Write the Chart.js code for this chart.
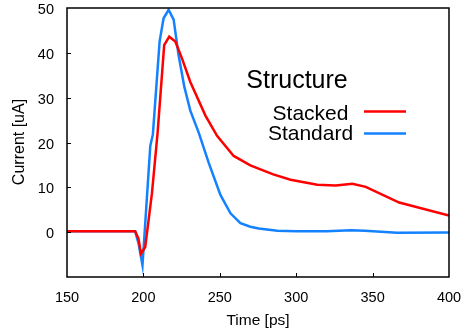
<!DOCTYPE html>
<html>
<head>
<meta charset="utf-8">
<script src="https://cdn.jsdelivr.net/npm/chart.js@4/dist/chart.umd.min.js"></script>
<style>
  html, body { margin: 0; padding: 0; background: #fff; }
  #wrap { width: 469px; height: 334px; }
</style>
</head>
<body>
<div id="wrap"><canvas id="currentChart"></canvas></div>
<script>
// tiempos y corrientes
const stackedTime = [150, 194.6, 196.8, 198.4, 201.2, 205.6, 209.3, 213.6, 216.9, 220.9, 225.3, 230.7, 240.6, 248.2, 259.1, 270, 276.6, 285, 296.3, 313.8, 325.8, 336.8, 345.5, 367.4, 400];
const stackedCurrent = [0.2, 0.2, -1.5, -4.8, -3.3, 8.7, 22.2, 41.7, 43.6, 42.5, 38.7, 33.5, 26, 21.5, 17, 14.9, 14, 12.9, 11.7, 10.6, 10.4, 10.8, 10.1, 6.6, 3.7];

const standardTime = [150, 194.6, 196.8, 199.4, 204.5, 206.2, 210.6, 213.2, 216.5, 219.8, 223, 226.8, 230.7, 236.2, 242.7, 250.4, 257, 263.5, 270, 275.5, 287.6, 300, 320, 335.7, 345, 366, 400];
const standardCurrent = [0.2, 0.2, -2.5, -7.4, 19.2, 21.8, 42.5, 47.7, 49.6, 47.4, 39.5, 32.4, 27.1, 22.2, 15.5, 8.3, 4.2, 2, 1.2, 0.8, 0.3, 0.2, 0.2, 0.45, 0.3, -0.15, -0.1];

const xTicks = [150, 200, 250, 300, 350, 400];
const yTicks = [0, 10, 20, 30, 40, 50];

const FONT = 'Arial, "Liberation Sans", sans-serif';
const RED = 'rgb(255, 0, 0)';
const BLUE = 'rgb(20, 130, 255)';

function toPoints(xs, ys) {
    return xs.map((x, i) => ({ x: x, y: ys[i] }));
}

// marco, marcas hacia dentro, títulos y leyenda
const framePlugin = {
    id: 'frame',
    afterDraw(chart) {
        const c = chart.ctx;
        const a = chart.chartArea;
        const sx = chart.scales.x, sy = chart.scales.y;
        c.save();
        c.strokeStyle = '#000';
        c.lineWidth = 1.5;
        c.strokeRect(a.left, a.top, a.right - a.left, a.bottom - a.top);
        c.lineWidth = 1;
        c.beginPath();
        xTicks.forEach(v => {
            if (v <= sx.min || v >= sx.max) return;
            const px = Math.round(sx.getPixelForValue(v)) + 0.5;
            c.moveTo(px, a.bottom);
            c.lineTo(px, a.bottom - 4);
        });
        yTicks.forEach(v => {
            if (v <= sy.min || v >= sy.max) return;
            const py = Math.round(sy.getPixelForValue(v)) + 0.5;
            c.moveTo(a.left, py);
            c.lineTo(a.left + 4, py);
        });
        c.stroke();

        c.fillStyle = '#000';
        c.textAlign = 'center';
        c.textBaseline = 'alphabetic';
        c.font = '15.5px ' + FONT;
        c.fillText('Time [ps]', 258, 324.5);
        c.save();
        c.translate(20, 142);
        c.rotate(-Math.PI / 2);
        c.textBaseline = 'middle';
        c.font = '16px ' + FONT;
        c.fillText('Current [uA]', 0, 0);
        c.restore();

        // leyenda
        c.font = '25px ' + FONT;
        c.fillText('Structure', 297, 88);
        c.font = '21px ' + FONT;
        c.fillText('Stacked', 310.5, 120);
        c.fillText('Standard', 310.5, 140);
        c.lineWidth = 2.5;
        c.strokeStyle = RED;
        c.beginPath(); c.moveTo(364, 111.5); c.lineTo(406, 111.5); c.stroke();
        c.strokeStyle = BLUE;
        c.beginPath(); c.moveTo(364, 133.5); c.lineTo(406, 133.5); c.stroke();
        c.restore();
    }
};

new Chart(document.getElementById('currentChart').getContext('2d'), {
    type: 'line',
    data: {
        datasets: [{
            label: 'Stacked',
            data: toPoints(stackedTime, stackedCurrent),
            borderColor: RED,
            borderWidth: 2.5,
            pointRadius: 0,
            tension: 0
        }, {
            label: 'Standard',
            data: toPoints(standardTime, standardCurrent),
            borderColor: BLUE,
            borderWidth: 2.5,
            pointRadius: 0,
            tension: 0
        }]
    },
    options: {
        responsive: true,
        maintainAspectRatio: false,
        animation: false,
        layout: { padding: { top: 8, right: 20, left: 0, bottom: 0 } },
        plugins: { legend: { display: false }, tooltip: { enabled: false } },
        scales: {
            x: {
                type: 'linear',
                min: 150,
                max: 400,
                afterBuildTicks: s => { s.ticks = xTicks.map(v => ({ value: v })); },
                afterFit: s => { s.height = 57; s.paddingLeft = 0; s.paddingRight = 0; },
                ticks: { color: '#000', font: { family: FONT, size: 14.5 }, padding: 12, maxRotation: 0 },
                grid: { display: false, drawTicks: false },
                border: { display: false }
            },
            y: {
                min: -10,
                max: 50,
                afterBuildTicks: s => { s.ticks = yTicks.map(v => ({ value: v })); },
                afterFit: s => { s.width = 67; s.paddingTop = 0; s.paddingBottom = 0; },
                ticks: { color: '#000', font: { family: FONT, size: 14.5 }, padding: 13, labelOffset: 2 },
                grid: { display: false, drawTicks: false },
                border: { display: false }
            }
        }
    },
    plugins: [framePlugin]
});
</script>
</body>
</html>
